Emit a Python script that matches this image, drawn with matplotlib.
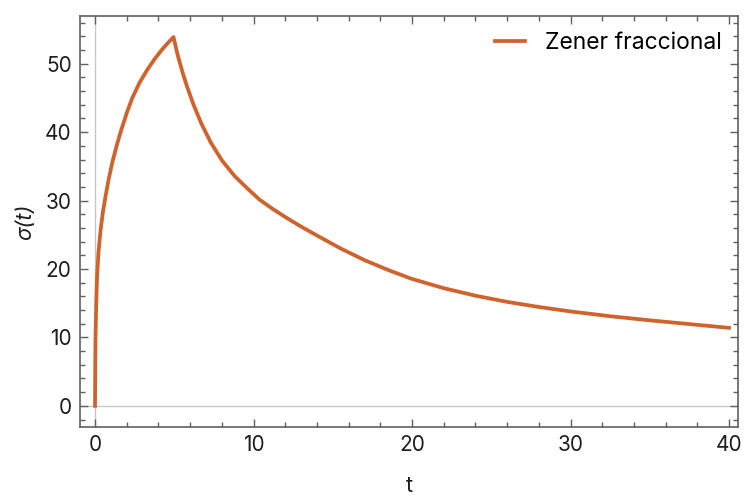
import numpy as np
from matplotlib import pyplot as plt
from matplotlib.ticker import MultipleLocator

# values
t = [0.0, 0.01, 0.03, 0.07, 0.13, 0.22, 0.35, 0.5, 0.66, 0.85, 1.08, 1.35, 1.61,
     2.0, 2.35, 2.8, 3.29, 3.7, 4.13, 4.5, 4.95,
     5.2, 5.5, 5.8, 6.2, 6.7, 7.3, 8.0, 8.8, 9.6, 10.4, 11.2, 12.0, 13.0, 14.0,
     15.5, 17.0, 18.5, 20.0, 22.0, 24.0, 26.0, 28.0, 30.0, 32.5, 35.0, 37.5, 40.0]
sigma = [0.0, 5.0, 10.0, 14.5, 19.0, 22.5, 25.7, 28.4, 30.6, 33.0, 35.5, 37.9, 40.0,
         42.8, 45.0, 47.2, 49.1, 50.5, 51.8, 52.8, 53.9,
         51.4, 48.9, 46.7, 44.1, 41.3, 38.5, 35.9, 33.6, 31.8, 30.1, 28.8, 27.6, 26.2, 24.9,
         23.0, 21.3, 19.85, 18.55, 17.2, 16.1, 15.2, 14.45, 13.8, 13.1, 12.5, 11.95, 11.4]
label = "Zener fraccional"
color = "#d0622b"

plt.rcParams['font.family'] = ['Inter', 'DejaVu Sans']

fig = plt.figure(figsize=(7.44, 4.96), dpi=100)
ax = fig.add_axes([0.1075, 0.139, 0.8845, 0.829])

ax.axhline(0, color='#c8c8c8', lw=1, zorder=1)
ax.axvline(0, color='#c8c8c8', lw=1, zorder=1)
ax.plot(t, sigma, color=color, lw=2.7, label=label, zorder=3, solid_joinstyle='round')

ax.set_xlim(-0.95, 40.57)
ax.set_ylim(-3.1, 57.0)
ax.xaxis.set_major_locator(MultipleLocator(10))
ax.xaxis.set_minor_locator(MultipleLocator(2))
ax.yaxis.set_major_locator(MultipleLocator(10))
ax.yaxis.set_minor_locator(MultipleLocator(2))

frame_col = '#606060'
for s in ax.spines.values():
    s.set_color(frame_col)
    s.set_linewidth(1.2)
ax.tick_params(which='both', direction='in', top=True, right=True, color=frame_col,
               labelcolor='#1e1e1e', labelsize=15, width=1)
ax.tick_params(which='major', length=6, pad=6)
ax.tick_params(which='minor', length=3.5)

ax.set_xlabel('t', fontsize=15.5, color='#1e1e1e', labelpad=15)
ax.set_ylabel('σ(t)', fontsize=15.5, color='#1e1e1e', style='italic', labelpad=7)

ax.legend(loc='upper right', frameon=False, fontsize=16.5, handlelength=1.3,
          handletextpad=0.9, borderaxespad=0.3)

plt.savefig('out.png', dpi=100)
